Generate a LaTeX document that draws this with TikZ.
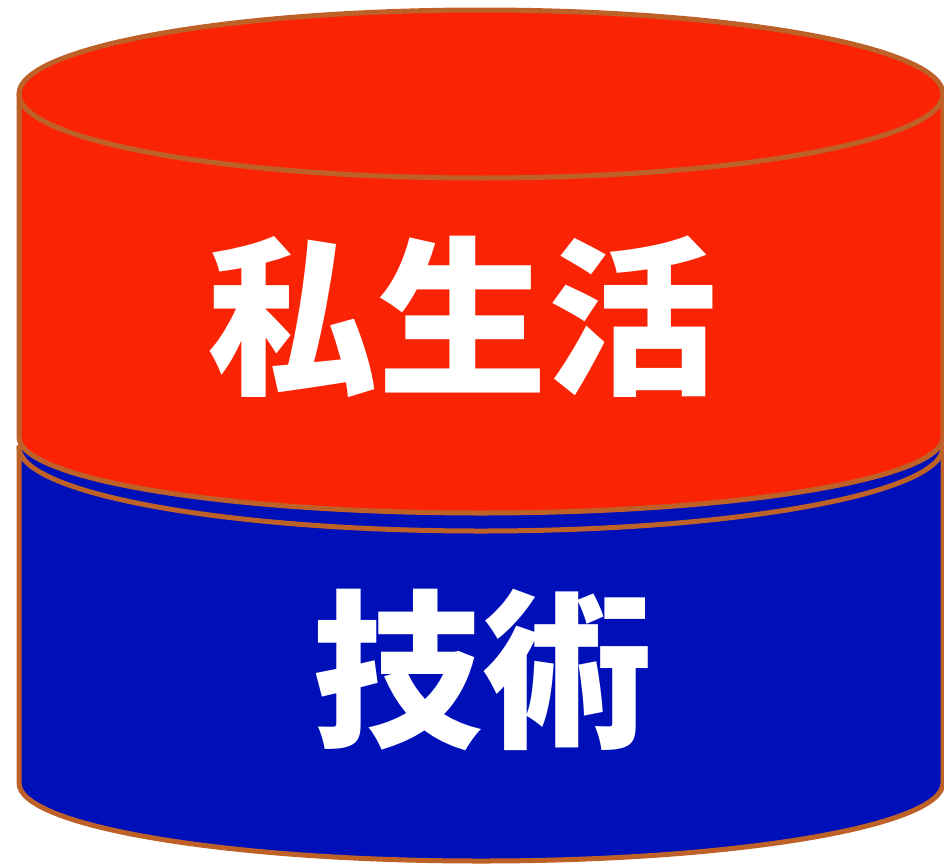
\documentclass[tikz,border=0pt]{standalone}
\usepackage{fontspec}
\newfontfamily\cjk{Noto Sans CJK JP}
\definecolor{redC}{HTML}{FA2405}
\definecolor{blueC}{HTML}{0010B8}
\definecolor{rimC}{HTML}{BE6128}
\tikzset{
  rim/.style={draw=rimC, line width=5pt, line join=round, line cap=round},
  label/.style={text=white, inner sep=0pt, font=\cjk\bfseries\fontsize{170}{170}\selectfont}
}
\begin{document}
\begin{tikzpicture}[x=1pt,y=-1pt]
\useasboundingbox (0,0) rectangle (944,865);
% blue cylinder
\path[fill=blueC] (19,447) -- (19,783) arc[start angle=180,end angle=0,x radius=462,y radius=78]
  -- (943,447) arc[start angle=0,end angle=-180,x radius=462,y radius=84] -- cycle;
\draw[rim] (19,447) -- (19,783) arc[start angle=180,end angle=0,x radius=462,y radius=78] -- (943,447);
\draw[rim] (19,447) arc[start angle=180,end angle=0,x radius=462,y radius=84];
% red cylinder
\path[fill=redC] (19,94) -- (19,437) arc[start angle=180,end angle=0,x radius=462,y radius=76]
  -- (943,94) arc[start angle=0,end angle=-180,x radius=462,y radius=84] -- cycle;
\draw[rim] (19,94) -- (19,437) arc[start angle=180,end angle=0,x radius=462,y radius=76]
  -- (943,94) arc[start angle=0,end angle=-180,x radius=462,y radius=84];
\draw[rim] (19,94) arc[start angle=180,end angle=0,x radius=462,y radius=84];
% labels
\node[label] (top) at (462,317) {私生活};
\node[label] (bot) at (482,670) {技術};
\end{tikzpicture}
\end{document}
